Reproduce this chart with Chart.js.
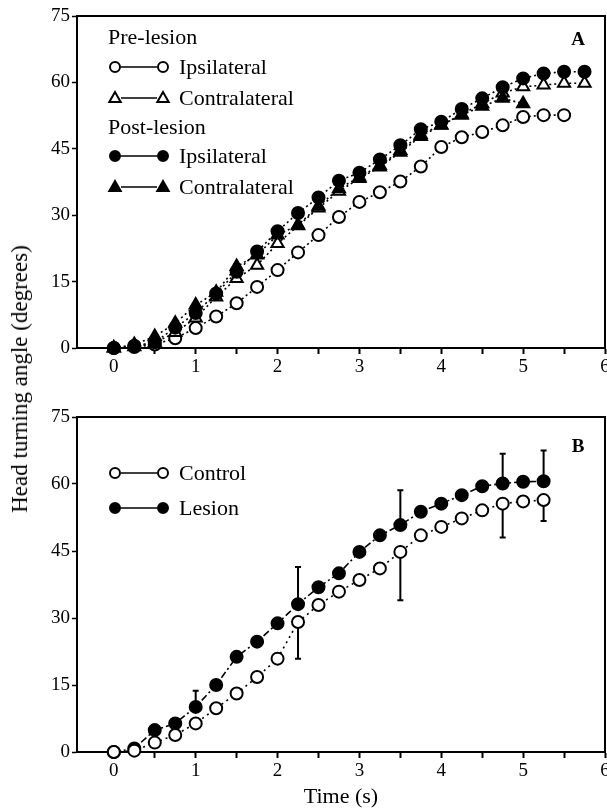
<!DOCTYPE html>
<html>
<head>
<meta charset="utf-8">
<script src="https://cdn.jsdelivr.net/npm/chart.js@4.4.0/dist/chart.umd.min.js"></script>
<style>
    html, body { margin: 0; padding: 0; background: #fff; }
    #wrap { position: relative; width: 607px; height: 811px; overflow: hidden; }
    #chartA { position: absolute; left: 0; top: 0; }
    #chartB { position: absolute; left: 0; top: 400px; }
    #yTitle {
        position: absolute; left: 20px; top: 379px;
        transform: translate(-50%, -50%) rotate(-90deg);
        font-family: 'Liberation Serif', 'Times New Roman', serif;
        font-size: 23px; white-space: nowrap; color: #000;
    }
</style>
</head>
<body>
<div id="wrap">
    <canvas id="chartA" width="607" height="400"></canvas>
    <canvas id="chartB" width="607" height="411"></canvas>
    <div id="yTitle">Head turning angle (degrees)</div>
</div>
<script>
// Panel A: pre/post lesion, ipsilateral vs contralateral
const timeA = [0, 0.25, 0.5, 0.75, 1, 1.25, 1.5, 1.75, 2, 2.25, 2.5, 2.75, 3, 3.25, 3.5, 3.75, 4, 4.25, 4.5, 4.75, 5, 5.25, 5.5, 5.75];
const preIpsi = [0, 0.2, 0.8, 2.2, 4.5, 7.1, 10.1, 13.8, 17.6, 21.6, 25.5, 29.6, 33, 35.2, 37.6, 41, 45.4, 47.6, 48.8, 50.3, 52.2, 52.6, 52.6];
const preContra = [0, 0.3, 1.2, 3.5, 6.8, 11.5, 15.7, 18.7, 23.6, 27.6, 31.6, 35.4, 38.3, 40.9, 44.2, 47.8, 50.3, 52.8, 55.2, 57.6, 59, 59.4, 59.8, 59.8];
const postIpsi = [0, 0.5, 1.3, 4.6, 7.9, 12.3, 17.2, 21.8, 26.4, 30.5, 34, 37.8, 39.6, 42.6, 45.8, 49.4, 51.1, 54, 56.4, 58.9, 60.9, 62, 62.4, 62.4];
const postContra = [0, 0.8, 2.6, 5.6, 9.7, 12.6, 18.4, 21, 25.5, 27.8, 32, 36, 38.6, 41.2, 44.6, 48.2, 50.4, 52.6, 54.6, 56.4, 55.2];
const groupLabelsA = ['Pre-lesion', 'Post-lesion'];
const sideLabels = ['Ipsilateral', 'Contralateral'];

// Panel B: control vs lesion
const timeB = [0, 0.25, 0.5, 0.75, 1, 1.25, 1.5, 1.75, 2, 2.25, 2.5, 2.75, 3, 3.25, 3.5, 3.75, 4, 4.25, 4.5, 4.75, 5, 5.25];
const controlB = [0, 0.3, 2.1, 3.8, 6.4, 9.8, 13.1, 16.8, 20.9, 29.1, 32.9, 35.9, 38.5, 41.1, 44.8, 48.5, 50.4, 52.3, 54.1, 55.6, 56.1, 56.4];
const lesionB = [0, 0.8, 4.9, 6.4, 10.1, 15, 21.3, 24.7, 28.8, 33.1, 36.9, 40, 44.8, 48.5, 50.8, 53.8, 55.6, 57.5, 59.5, 60.1, 60.5, 60.6];
const errTimes = [1, 2.25, 3.5, 4.75, 5.25];
const lesionErrUp = [3.6, 8.3, 7.8, 6.7, 6.9];
const controlErrDown = [0, 8.2, 10.8, 7.6, 4.7];
const seriesLabelsB = ['Control', 'Lesion'];

// Axes
const xTicks = [0, 0.5, 1, 1.5, 2, 2.5, 3, 3.5, 4, 4.5, 5, 5.5, 6];
const yTicks = [0, 15, 30, 45, 60, 75];

const serif = "'Liberation Serif', 'Times New Roman', serif";
Chart.defaults.font.family = serif;
Chart.defaults.color = '#000';

function toPoints(xs, ys) {
    return ys.map((y, i) => ({ x: xs[i], y: y }));
}

function series(label, xs, ys, style, filled, dash) {
    return {
        label: label,
        data: toPoints(xs, ys),
        borderColor: '#000',
        borderWidth: 1.6,
        borderDash: dash,
        backgroundColor: filled ? '#000' : '#fff',
        pointStyle: style,
        pointRadius: style === 'triangle' ? 7 : 6,
        pointBorderWidth: 2,
        pointBorderColor: '#000',
        pointBackgroundColor: filled ? '#000' : '#fff',
        tension: 0,
        fill: false,
        clip: false
    };
}

function drawMarker(ctx, style, filled, x, y, r) {
    ctx.beginPath();
    if (style === 'circle') {
        ctx.arc(x, y, r, 0, Math.PI * 2);
    } else {
        const h = r * 1.2;
        ctx.moveTo(x, y - h);
        ctx.lineTo(x + h * 0.95, y + h * 0.65);
        ctx.lineTo(x - h * 0.95, y + h * 0.65);
        ctx.closePath();
    }
    ctx.fillStyle = filled ? '#000' : '#fff';
    ctx.fill();
    ctx.lineWidth = 2;
    ctx.strokeStyle = '#000';
    ctx.stroke();
}

function makeLegend(rows, panelLabel, panelY) {
    return {
        id: 'keyLegend',
        afterDraw(chart) {
            const ctx = chart.ctx;
            ctx.save();
            ctx.textBaseline = 'middle';
            ctx.font = '22px ' + serif;
            rows.forEach(row => {
                ctx.fillStyle = '#000';
                if (row.header) {
                    ctx.fillText(row.header, 108, row.y);
                    return;
                }
                ctx.strokeStyle = '#000';
                ctx.lineWidth = 1.6;
                ctx.beginPath();
                ctx.moveTo(121, row.y);
                ctx.lineTo(157, row.y);
                ctx.stroke();
                drawMarker(ctx, row.style, row.filled, 115, row.y, 5);
                drawMarker(ctx, row.style, row.filled, 163, row.y, 5);
                ctx.fillStyle = '#000';
                ctx.fillText(row.text, 179, row.y + 1);
            });
            ctx.font = 'bold 19px ' + serif;
            ctx.textAlign = 'center';
            ctx.fillText(panelLabel, 578, panelY);
            ctx.restore();
        }
    };
}

const framePlugin = {
    id: 'frame',
    beforeDatasetsDraw(chart) {
        const { ctx, chartArea: a } = chart;
        ctx.save();
        ctx.strokeStyle = '#000';
        ctx.lineWidth = 2;
        ctx.strokeRect(a.left, a.top, a.right - a.left, a.bottom - a.top);
        ctx.restore();
    }
};

const errorBarPlugin = {
    id: 'errBars',
    beforeDatasetsDraw(chart) {
        const { ctx, scales: { x, y } } = chart;
        ctx.save();
        ctx.strokeStyle = '#000';
        ctx.lineWidth = 2;
        function bar(t, v0, v1) {
            if (v0 === v1) return;
            const px = x.getPixelForValue(t);
            const p1 = y.getPixelForValue(v1);
            ctx.beginPath();
            ctx.moveTo(px, y.getPixelForValue(v0));
            ctx.lineTo(px, p1);
            ctx.moveTo(px - 3, p1);
            ctx.lineTo(px + 3, p1);
            ctx.stroke();
        }
        errTimes.forEach((t, i) => {
            const k = timeB.indexOf(t);
            bar(t, lesionB[k], lesionB[k] + lesionErrUp[i]);
            bar(t, controlB[k], controlB[k] - controlErrDown[i]);
        });
        ctx.restore();
    }
};

function makeScales(xHeight, withTitle) {
    return {
        x: {
            type: 'linear',
            min: -0.45,
            max: 6,
            afterBuildTicks: s => { s.ticks = xTicks.map(v => ({ value: v })); },
            afterFit: s => { s.height = xHeight; s.paddingLeft = 0; s.paddingRight = 0; },
            ticks: {
                autoSkip: false,
                maxRotation: 0,
                padding: 2,
                color: '#000',
                font: { family: serif, size: 19 },
                callback: v => Number.isInteger(v) ? String(v) : ''
            },
            grid: { drawOnChartArea: false, tickLength: 6, tickColor: '#000', tickWidth: 2 },
            border: { display: true, color: '#000', width: 2 },
            title: {
                display: withTitle,
                text: 'Time (s)',
                color: '#000',
                font: { family: serif, size: 22 },
                padding: { top: 0, bottom: 1 }
            }
        },
        y: {
            min: 0,
            max: 75,
            afterBuildTicks: s => { s.ticks = yTicks.map(v => ({ value: v })); },
            afterFit: s => { s.width = 77; s.paddingTop = 0; s.paddingBottom = 0; },
            ticks: {
                autoSkip: false,
                padding: 2,
                color: '#000',
                font: { family: serif, size: 19 }
            },
            grid: { drawOnChartArea: false, tickLength: 5, tickColor: '#000', tickWidth: 1.5 },
            border: { display: true, color: '#000', width: 2 }
        }
    };
}

function baseOptions(top, xHeight, withTitle) {
    return {
        responsive: false,
        animation: false,
        layout: { autoPadding: false, padding: { left: 0, right: 2, top: top, bottom: 0 } },
        plugins: { legend: { display: false }, tooltip: { enabled: false } },
        scales: makeScales(xHeight, withTitle)
    };
}

const dotted = [2, 3];

new Chart(document.getElementById('chartA'), {
    type: 'line',
    data: {
        datasets: [
            series(groupLabelsA[1] + ' ' + sideLabels[0], timeA, postIpsi, 'circle', true, dotted),
            series(groupLabelsA[1] + ' ' + sideLabels[1], timeA, postContra, 'triangle', true, dotted),
            series(groupLabelsA[0] + ' ' + sideLabels[1], timeA, preContra, 'triangle', false, dotted),
            series(groupLabelsA[0] + ' ' + sideLabels[0], timeA, preIpsi, 'circle', false, dotted)
        ]
    },
    options: baseOptions(16, 52, false),
    plugins: [framePlugin, makeLegend([
        { header: groupLabelsA[0], y: 38 },
        { style: 'circle', filled: false, text: sideLabels[0], y: 67 },
        { style: 'triangle', filled: false, text: sideLabels[1], y: 98 },
        { header: groupLabelsA[1], y: 128 },
        { style: 'circle', filled: true, text: sideLabels[0], y: 156 },
        { style: 'triangle', filled: true, text: sideLabels[1], y: 187 }
    ], 'A', 40)]
});

new Chart(document.getElementById('chartB'), {
    type: 'line',
    data: {
        datasets: [
            series(seriesLabelsB[0], timeB, controlB, 'circle', false, [2, 4]),
            series(seriesLabelsB[1], timeB, lesionB, 'circle', true, [7, 3, 2, 3])
        ]
    },
    options: baseOptions(17, 59, true),
    plugins: [framePlugin, errorBarPlugin, makeLegend([
        { style: 'circle', filled: false, text: seriesLabelsB[0], y: 73 },
        { style: 'circle', filled: true, text: seriesLabelsB[1], y: 108 }
    ], 'B', 47)]
});
</script>
</body>
</html>
